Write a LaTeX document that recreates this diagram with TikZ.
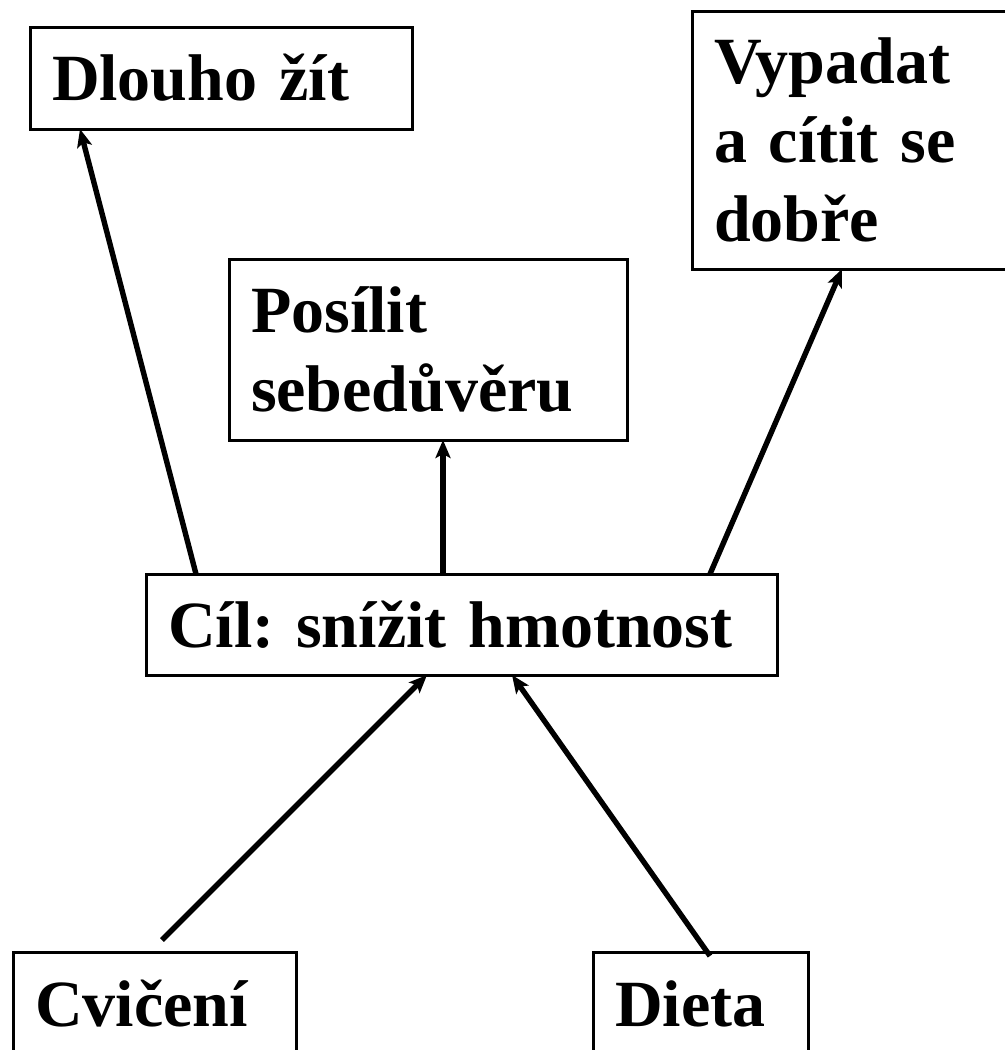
\documentclass[tikz,border=0pt]{standalone}
\usepackage{fontspec}
\setmainfont{Liberation Serif}[WordSpace=0.72]
\usetikzlibrary{arrows.meta}
\tikzset{
  box/.style={draw, line width=1.5pt, anchor=north west, outer sep=0pt,
    inner xsep=11pt, inner ysep=0pt, align=left,
    font=\bfseries\frenchspacing\fontsize{33}{39.5}\selectfont},
  arr/.style={line width=2.7pt, -{Stealth[length=9pt,width=7.5pt,inset=2pt]}}
}
\begin{document}
\begin{tikzpicture}[x=0.5pt, y=-0.5pt]
				\useasboundingbox (0,0) rectangle (1005,1050);
				\clip (0,0) rectangle (1005,1050);
				\node[box, text width=169pt, minimum height=51pt] (dlouho) at (30,27) {Dlouho žít};
				\node[box, text width=143pt, minimum height=129pt] (vypadat) at (692,11) {Vypadat\\a cítit se\\dobře};
				\node[box, text width=177pt, minimum height=90.5pt] (posilit) at (229,259) {Posílit\\sebedůvěru};
				\node[box, text width=293.5pt, minimum height=50.5pt] (cil) at (146,574) {Cíl: snížit hmotnost};
				\node[box, text width=119.5pt, minimum height=52pt] (cviceni) at (13,952) {Cvičení};
				\node[box, text width=85.5pt, minimum height=52pt] (dieta) at (593,952) {Dieta};
				\draw[arr] ([xshift=25pt]cil.north west)--([xshift=25pt]dlouho.south west);
				\draw[arr] ([xshift=148.5pt]cil.north west)--([xshift=107pt]posilit.south west);
				\draw[arr] ([xshift=282pt]cil.north west)--([xshift=75pt]vypadat.south west);
				\draw[arr] ([xshift=74.5pt,yshift=6pt]cviceni.north west)--([xshift=140.5pt]cil.south west);
				\draw[arr] ([xshift=58.5pt,yshift=-2pt]dieta.north west)--([xshift=183pt]cil.south west);
		\end{tikzpicture}
\end{document}
